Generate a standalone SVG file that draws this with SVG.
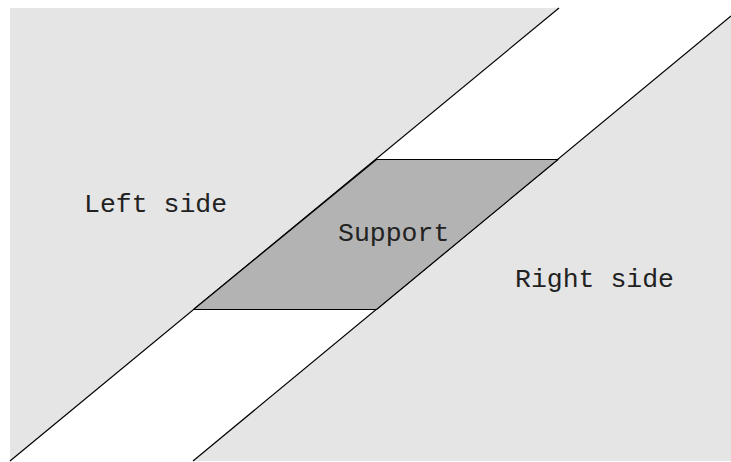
<svg xmlns="http://www.w3.org/2000/svg" width="731" height="462" viewBox="0 0 731 462">
<style>
.side{fill:#e5e5e5;stroke:none}
.edge{fill:none;stroke:#000;stroke-width:1.2}
.support{fill:#b3b3b3;stroke:#000;stroke-width:1.2;stroke-linejoin:round}
.lbl{font-family:"Liberation Mono","Courier New",monospace;font-size:26.5px;fill:#222}
</style>
<rect width="731" height="462" fill="#fff"/>
<g id="left-side">
<polygon class="side" points="10,8 559,8 10,461"/>
<line class="edge" x1="559" y1="8" x2="10" y2="461"/>
<text class="lbl" x="84" y="212">Left side</text>
</g>
<g id="right-side">
<polygon class="side" points="193,461 731,16 731,461"/>
<line class="edge" x1="193" y1="461" x2="731" y2="16"/>
<text class="lbl" x="515" y="287">Right side</text>
</g>
<g id="support">
<polygon class="support" points="376.5,159.5 558,159.5 376.5,309.5 193.5,309.5"/>
<text class="lbl" x="338" y="241">Support</text>
</g>
</svg>
